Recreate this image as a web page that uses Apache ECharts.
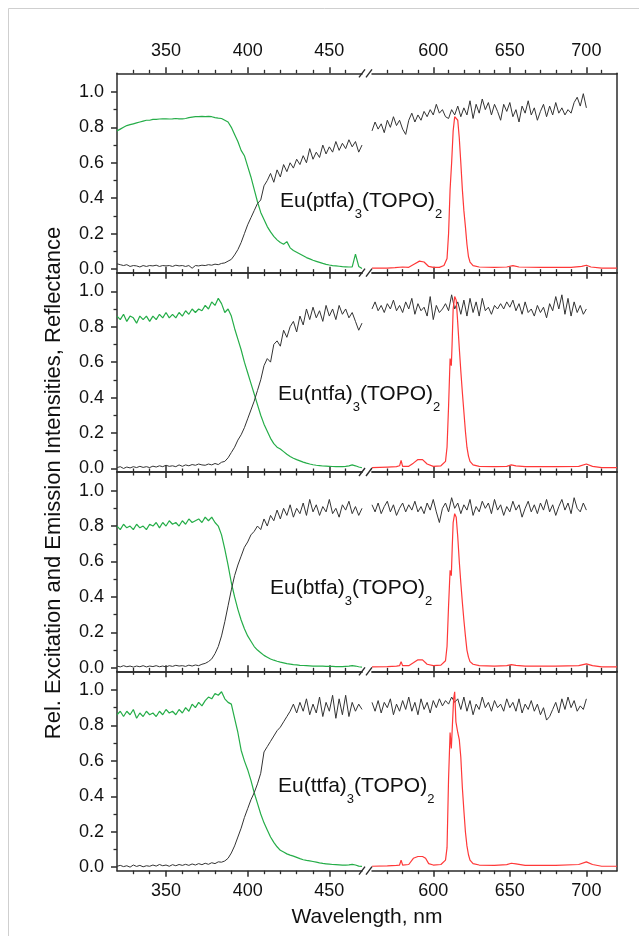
<!DOCTYPE html>
<html>
<head>
<meta charset="utf-8">
<script src="https://cdn.jsdelivr.net/npm/echarts@6/dist/echarts.min.js"></script>
<style>
html,body{margin:0;padding:0;background:#fff}
#chart{width:639px;height:936px}
</style>
</head>
<body>
<div id="chart"></div>
<script>
var FONT = '"Liberation Sans", Arial, sans-serif';

// x grid of the sampled curves (nm)
var LEFT_START = 320, RIGHT_START = 560, STEP = 2;
var LEFT_TICKS = [350, 400, 450];
var RIGHT_TICKS = [600, 650, 700];
var LEFT_MINOR = [330, 340, 360, 370, 380, 390, 410, 420, 430, 440, 460];
var RIGHT_MINOR = [570, 580, 590, 610, 620, 630, 640, 660, 670, 680, 690, 710];
var Y_TICKS = [0, 0.2, 0.4, 0.6, 0.8, 1.0];
var Y_MINOR = [0.1, 0.3, 0.5, 0.7, 0.9];

// ---- Eu(ptfa)3(TOPO)2 ----
var excitation1 = [
  0.78,0.79,0.80,0.81,0.815,0.82,0.825,0.83,0.835,0.84,
  0.84,0.845,0.845,0.847,0.848,0.848,0.847,0.848,0.85,0.848,
  0.848,0.85,0.855,0.858,0.86,0.86,0.862,0.86,0.862,0.86,
  0.855,0.852,0.85,0.84,0.83,0.80,0.76,0.72,0.67,0.64,
  0.58,0.52,0.45,0.38,0.32,0.28,0.24,0.21,0.185,0.165,
  0.15,0.14,0.155,0.12,0.105,0.095,0.085,0.075,0.065,0.058,
  0.05,0.044,0.038,0.032,0.027,0.023,0.02,0.018,0.016,0.014,
  0.013,0.012,0.013,0.085,0.015,0.003];
var reflectLeft1 = [
  0.03,0.025,0.02,0.025,0.015,0.02,0.018,0.012,0.02,0.015,
  0.02,0.018,0.022,0.015,0.02,0.018,0.02,0.015,0.022,0.018,
  0.02,0.015,0.02,0.005,0.02,0.018,0.022,0.02,0.025,0.022,
  0.028,0.025,0.032,0.035,0.045,0.055,0.08,0.11,0.15,0.2,
  0.25,0.29,0.33,0.37,0.39,0.47,0.5,0.54,0.49,0.56,
  0.52,0.59,0.55,0.6,0.57,0.62,0.59,0.64,0.6,0.68,
  0.62,0.66,0.63,0.7,0.65,0.69,0.66,0.72,0.67,0.71,
  0.68,0.73,0.69,0.72,0.66,0.7];
var reflectRight1 = [
  0.78,0.83,0.79,0.82,0.77,0.84,0.8,0.86,0.81,0.84,
  0.79,0.76,0.84,0.88,0.83,0.87,0.84,0.89,0.86,0.9,
  0.87,0.93,0.88,0.9,0.86,0.85,0.9,0.87,0.92,0.86,
  0.91,0.87,0.95,0.85,0.93,0.88,0.96,0.9,0.94,0.87,
  0.93,0.89,0.84,0.93,0.89,0.94,0.86,0.9,0.83,0.92,
  0.88,0.95,0.87,0.91,0.84,0.89,0.93,0.86,0.92,0.87,
  0.94,0.88,0.91,0.87,0.9,0.88,0.94,0.97,0.92,0.99,
  0.91];
var emission1 = [
  [560,0.005],[570,0.006],[575,0.008],[580,0.012],[584,0.01],[588,0.03],[591,0.045],[594,0.04],
  [597,0.015],[600,0.01],[604,0.01],[607,0.02],[609,0.06],[610,0.2],[611,0.45],[612,0.6],
  [613,0.78],[614,0.86],[615,0.87],[616,0.84],[617,0.74],[618,0.6],[619,0.45],[620,0.33],
  [621,0.24],[622,0.14],[623,0.07],[624,0.04],[626,0.02],[630,0.012],[640,0.01],[648,0.012],
  [652,0.02],[656,0.012],[670,0.01],[690,0.01],[697,0.015],[700,0.022],[703,0.012],[710,0.005],[720,0.005]];

// ---- Eu(ntfa)3(TOPO)2 ----
var excitation2 = [
  0.86,0.84,0.87,0.83,0.86,0.85,0.82,0.86,0.84,0.86,
  0.83,0.86,0.84,0.87,0.85,0.88,0.85,0.87,0.85,0.88,
  0.86,0.89,0.87,0.9,0.88,0.9,0.89,0.92,0.9,0.94,
  0.92,0.96,0.93,0.88,0.9,0.86,0.79,0.73,0.67,0.6,
  0.54,0.48,0.42,0.36,0.3,0.25,0.21,0.17,0.14,0.12,
  0.11,0.095,0.08,0.068,0.058,0.05,0.043,0.036,0.03,0.025,
  0.021,0.018,0.016,0.014,0.013,0.012,0.011,0.01,0.01,0.01,
  0.012,0.015,0.02,0.015,0.008,0.004];
var reflectLeft2 = [
  0.005,0.01,0.0,0.008,0.003,0.01,0.005,0.012,0.006,0.01,
  0.005,0.013,0.008,0.015,0.01,0.018,0.012,0.015,0.01,0.02,
  0.012,0.02,0.015,0.022,0.018,0.025,0.02,0.018,0.025,0.02,
  0.028,0.022,0.035,0.04,0.06,0.09,0.12,0.16,0.19,0.23,
  0.28,0.33,0.38,0.44,0.5,0.58,0.62,0.6,0.7,0.72,
  0.69,0.78,0.74,0.8,0.83,0.77,0.86,0.81,0.9,0.84,
  0.91,0.85,0.89,0.83,0.92,0.86,0.9,0.84,0.92,0.87,
  0.9,0.85,0.88,0.83,0.78,0.82];
var reflectRight2 = [
  0.9,0.94,0.89,0.92,0.88,0.93,0.9,0.95,0.89,0.92,
  0.88,0.94,0.9,0.96,0.87,0.93,0.89,0.91,0.86,0.97,
  0.84,0.92,0.88,0.9,0.93,0.89,0.98,0.9,0.94,0.87,
  0.95,0.86,0.96,0.88,0.94,0.86,0.96,0.89,0.91,0.87,
  0.92,0.9,0.93,0.9,0.94,0.91,0.95,0.89,0.93,0.87,
  0.94,0.88,0.9,0.86,0.92,0.88,0.91,0.85,0.93,0.89,
  0.97,0.9,0.98,0.87,0.96,0.86,0.94,0.88,0.92,0.87,
  0.9];
var emission2 = [
  [560,0.005],[570,0.008],[576,0.01],[578,0.015],[579,0.045],[580,0.012],[584,0.012],[587,0.03],
  [590,0.05],[593,0.05],[596,0.025],[600,0.012],[605,0.015],[608,0.04],[609,0.12],[610,0.35],
  [611,0.62],[611.8,0.58],[612.3,0.7],[613,0.9],[614,0.97],[615,0.95],[616,0.82],[617,0.68],
  [618,0.55],[619,0.43],[620,0.32],[621,0.21],[622,0.12],[623,0.07],[624,0.04],[626,0.02],
  [630,0.012],[640,0.01],[648,0.012],[651,0.02],[654,0.015],[660,0.01],[680,0.01],[695,0.012],
  [700,0.025],[704,0.012],[710,0.005],[720,0.005]];

// ---- Eu(btfa)3(TOPO)2 ----
var excitation3 = [
  0.8,0.78,0.81,0.79,0.8,0.78,0.81,0.79,0.8,0.78,
  0.81,0.8,0.82,0.79,0.82,0.8,0.83,0.81,0.82,0.8,
  0.83,0.81,0.84,0.82,0.83,0.84,0.82,0.85,0.83,0.85,
  0.82,0.8,0.75,0.67,0.58,0.48,0.4,0.33,0.27,0.22,
  0.18,0.15,0.12,0.1,0.085,0.07,0.06,0.05,0.043,0.037,
  0.032,0.028,0.024,0.021,0.018,0.016,0.014,0.013,0.012,0.011,
  0.01,0.01,0.009,0.009,0.008,0.008,0.008,0.007,0.007,0.007,
  0.008,0.009,0.012,0.01,0.006,0.004];
var reflectLeft3 = [
  0.01,0.005,0.012,0.006,0.01,0.004,0.01,0.006,0.012,0.005,
  0.01,0.007,0.012,0.006,0.01,0.005,0.012,0.008,0.014,0.01,
  0.012,0.008,0.015,0.01,0.016,0.012,0.02,0.025,0.035,0.05,
  0.08,0.12,0.18,0.26,0.35,0.44,0.52,0.58,0.63,0.68,
  0.71,0.75,0.77,0.8,0.78,0.84,0.8,0.86,0.83,0.89,
  0.84,0.9,0.86,0.92,0.85,0.9,0.87,0.93,0.86,0.95,
  0.88,0.92,0.86,0.91,0.88,0.95,0.87,0.9,0.85,0.92,
  0.89,0.94,0.87,0.91,0.86,0.9];
var reflectRight3 = [
  0.92,0.88,0.93,0.87,0.91,0.94,0.88,0.92,0.86,0.9,
  0.93,0.88,0.92,0.89,0.94,0.88,0.91,0.87,0.93,0.89,
  0.95,0.88,0.82,0.9,0.93,0.88,0.96,0.9,0.93,0.87,
  0.92,0.89,0.95,0.86,0.91,0.88,0.94,0.9,0.93,0.87,
  0.95,0.89,0.92,0.86,0.91,0.88,0.94,0.89,0.92,0.85,
  0.9,0.94,0.88,0.92,0.87,0.93,0.89,0.95,0.88,0.92,
  0.86,0.91,0.95,0.89,0.93,0.87,0.96,0.9,0.88,0.93,
  0.89];
var emission3 = [
  [560,0.005],[570,0.007],[576,0.01],[578,0.012],[579,0.035],[580,0.012],[584,0.012],[587,0.028],
  [590,0.045],[593,0.045],[596,0.02],[600,0.012],[605,0.015],[608,0.04],[609,0.12],[610,0.35],
  [611,0.55],[611.8,0.52],[612.4,0.68],[613,0.82],[614,0.87],[615,0.85],[616,0.74],[617,0.6],
  [618,0.48],[619,0.37],[620,0.27],[621,0.18],[622,0.1],[623,0.06],[624,0.035],[626,0.02],
  [630,0.012],[640,0.01],[648,0.012],[651,0.018],[654,0.014],[660,0.01],[680,0.01],[695,0.012],
  [700,0.022],[704,0.012],[710,0.005],[720,0.005]];

// ---- Eu(ttfa)3(TOPO)2 ----
var excitation4 = [
  0.86,0.88,0.85,0.88,0.86,0.89,0.84,0.87,0.85,0.88,
  0.86,0.87,0.85,0.88,0.86,0.89,0.87,0.88,0.86,0.89,
  0.87,0.9,0.88,0.92,0.9,0.93,0.91,0.94,0.96,0.95,
  0.98,0.97,0.99,0.95,0.93,0.92,0.84,0.76,0.66,0.6,
  0.55,0.49,0.42,0.36,0.3,0.25,0.21,0.17,0.14,0.115,
  0.095,0.085,0.075,0.068,0.062,0.055,0.048,0.042,0.038,0.035,
  0.032,0.028,0.024,0.021,0.019,0.017,0.015,0.014,0.013,0.012,
  0.012,0.013,0.016,0.012,0.006,0.004];
var reflectLeft4 = [
  0.005,0.01,0.003,0.008,0.0,0.012,0.004,0.01,0.002,0.008,
  0.005,0.012,0.006,0.015,0.008,0.012,0.005,0.014,0.008,0.015,
  0.01,0.016,0.01,0.018,0.012,0.02,0.014,0.022,0.016,0.025,
  0.02,0.03,0.028,0.035,0.05,0.08,0.12,0.17,0.22,0.28,
  0.33,0.38,0.42,0.47,0.53,0.65,0.68,0.71,0.74,0.77,
  0.79,0.82,0.85,0.88,0.92,0.87,0.93,0.88,0.95,0.86,
  0.92,0.87,0.96,0.85,0.93,0.88,0.97,0.84,0.95,0.86,
  0.97,0.85,0.93,0.88,0.92,0.89];
var reflectRight4 = [
  0.93,0.88,0.94,0.87,0.93,0.9,0.95,0.86,0.92,0.88,
  0.94,0.89,0.96,0.88,0.93,0.86,0.95,0.89,0.93,0.87,
  0.94,0.9,0.95,0.91,0.94,0.92,0.96,0.93,0.95,0.89,
  0.96,0.88,0.94,0.86,0.92,0.89,0.96,0.9,0.93,0.88,
  0.94,0.9,0.92,0.88,0.95,0.9,0.93,0.88,0.95,0.87,
  0.92,0.89,0.94,0.88,0.92,0.86,0.9,0.83,0.85,0.89,
  0.93,0.87,0.95,0.89,0.96,0.9,0.94,0.88,0.91,0.89,
  0.95];
var emission4 = [
  [560,0.005],[570,0.007],[576,0.01],[578,0.012],[579,0.04],[580,0.012],[584,0.015],[587,0.05],
  [590,0.06],[593,0.06],[595,0.05],[597,0.02],[600,0.012],[605,0.015],[608,0.04],[609,0.11],
  [610,0.5],[611,0.76],[611.8,0.67],[612.5,0.8],[613.3,0.95],[614,0.99],[614.8,0.82],[616,0.76],
  [617,0.72],[618,0.62],[619,0.45],[620,0.32],[621,0.2],[622,0.12],[623,0.07],[624,0.04],
  [626,0.02],[630,0.012],[640,0.01],[648,0.014],[651,0.022],[654,0.018],[660,0.01],[680,0.01],
  [695,0.015],[700,0.03],[704,0.015],[710,0.005],[720,0.005]];

var compounds = ['ptfa', 'ntfa', 'btfa', 'ttfa'];
var excitation = [excitation1, excitation2, excitation3, excitation4];
var reflectLeft = [reflectLeft1, reflectLeft2, reflectLeft3, reflectLeft4];
var reflectRight = [reflectRight1, reflectRight2, reflectRight3, reflectRight4];
var emission = [emission1, emission2, emission3, emission4];
var labelPos = [[280, 210], [278, 403], [270, 597], [278, 795]]; // left x, baseline y

// layout
var LEFT_X = 117, RIGHT_X = 372, SEG_W = 245;
var PANEL_TOP = 73.3, PANEL_H = 199.35;
var Y_MIN = -0.02, Y_MAX = 1.105;
var AXIS_COLOR = '#2b2b2b', GREEN = '#25ad48', RED = '#ff3838', BLACK = '#333333';

function pairs(start, step, vals) {
  return vals.map(function (v, i) { return [start + i * step, v]; });
}

var chart = echarts.init(document.getElementById('chart'));
var grids = [], xAxes = [], yAxes = [], series = [], graphics = [];

graphics.push({type: 'rect', shape: {x: 8.5, y: 8.5, width: 700, height: 1000},
  style: {fill: 'none', stroke: '#cfcfcf', lineWidth: 1}, silent: true});

compounds.forEach(function (name, p) {
  var top = PANEL_TOP + p * PANEL_H;
  [0, 1].forEach(function (side) {
    var g = grids.length;
    grids.push({left: side ? RIGHT_X : LEFT_X, top: top, width: SEG_W, height: PANEL_H});
    var min = side ? 560 : 320, max = side ? 720 : 470;
    var majors = side ? RIGHT_TICKS : LEFT_TICKS, minors = side ? RIGHT_MINOR : LEFT_MINOR;
    var xi = xAxes.length;
    ['bottom', 'top'].forEach(function (pos) {
      var showLab = (pos === 'top' && p === 0) || (pos === 'bottom' && p === 3);
      xAxes.push({
        type: 'value', gridIndex: g, position: pos, min: min, max: max,
        axisLine: {show: true, onZero: false, lineStyle: {color: AXIS_COLOR, width: 1.5}},
        axisTick: {show: true, customValues: majors, length: 6, lineStyle: {color: AXIS_COLOR, width: 1.5}},
        axisLabel: {show: showLab, customValues: majors, margin: pos === 'top' ? 13 : 11,
          fontSize: 18, color: '#111', fontFamily: FONT},
        splitLine: {show: false}
      });
      xAxes.push({
        type: 'value', gridIndex: g, position: pos, min: min, max: max,
        axisLine: {show: false, onZero: false},
        axisTick: {show: true, customValues: minors, length: 3.5, lineStyle: {color: AXIS_COLOR, width: 1.3}},
        axisLabel: {show: false},
        splitLine: {show: false}
      });
    });
    var yi = yAxes.length;
    if (side === 0) {
      yAxes.push({
        type: 'value', gridIndex: g, position: 'left', min: Y_MIN, max: Y_MAX,
        axisLine: {show: true, onZero: false, lineStyle: {color: AXIS_COLOR, width: 1.5}},
        axisTick: {show: true, customValues: Y_TICKS, length: 6, lineStyle: {color: AXIS_COLOR, width: 1.5}},
        axisLabel: {show: true, customValues: Y_TICKS, margin: 13, fontSize: 18, color: '#111', fontFamily: FONT,
          formatter: function (v) { return v.toFixed(1); }},
        splitLine: {show: false}
      });
      yAxes.push({
        type: 'value', gridIndex: g, position: 'left', min: Y_MIN, max: Y_MAX,
        axisLine: {show: false, onZero: false},
        axisTick: {show: true, customValues: Y_MINOR, length: 3.5, lineStyle: {color: AXIS_COLOR, width: 1.3}},
        axisLabel: {show: false},
        splitLine: {show: false}
      });
      series.push({type: 'line', xAxisIndex: xi, yAxisIndex: yi, data: pairs(LEFT_START, STEP, excitation[p]),
        showSymbol: false, lineStyle: {color: GREEN, width: 1.2}, itemStyle: {color: GREEN}});
      series.push({type: 'line', xAxisIndex: xi, yAxisIndex: yi, data: pairs(LEFT_START, STEP, reflectLeft[p]),
        showSymbol: false, lineStyle: {color: BLACK, width: 1}, itemStyle: {color: BLACK}});
    } else {
      yAxes.push({
        type: 'value', gridIndex: g, position: 'right', min: Y_MIN, max: Y_MAX,
        axisLine: {show: true, onZero: false, lineStyle: {color: AXIS_COLOR, width: 1.5}},
        axisTick: {show: false}, axisLabel: {show: false}, splitLine: {show: false}
      });
      series.push({type: 'line', xAxisIndex: xi, yAxisIndex: yi, data: pairs(RIGHT_START, STEP, reflectRight[p]),
        showSymbol: false, lineStyle: {color: BLACK, width: 1}, itemStyle: {color: BLACK}});
      series.push({type: 'line', xAxisIndex: xi, yAxisIndex: yi, data: emission[p],
        showSymbol: false, lineStyle: {color: RED, width: 1.2}, itemStyle: {color: RED}});
    }
  });

  graphics.push({
    type: 'text', x: labelPos[p][0], y: labelPos[p][1] - 19.5,
    style: {
      text: '{n|Eu(' + name + ')}{s|3}{n|(TOPO)}{s|2}',
      align: 'left', verticalAlign: 'top',
      rich: {
        n: {fontSize: 21, fontFamily: FONT, fill: '#111', lineHeight: 24, verticalAlign: 'top'},
        s: {fontSize: 13, fontFamily: FONT, fill: '#111', lineHeight: 13, verticalAlign: 'top', padding: [17, 0, 0, 0]}
      }
    }
  });
});

// axis break marks
for (var b = 0; b <= 4; b++) {
  var by = PANEL_TOP + b * PANEL_H;
  [[359, 365], [366, 372]].forEach(function (s) {
    graphics.push({type: 'line', shape: {x1: s[0], y1: by + 4, x2: s[1], y2: by - 4},
      style: {stroke: AXIS_COLOR, lineWidth: 1.4}, silent: true});
  });
}

graphics.push({type: 'text', x: 367, y: 917,
  style: {text: 'Wavelength, nm', font: '21px ' + FONT, fill: '#111', align: 'center', verticalAlign: 'middle'}});
graphics.push({type: 'text', x: 54, y: 483, rotation: Math.PI / 2,
  style: {text: 'Rel. Excitation and Emission Intensities, Reflectance', font: '22px ' + FONT, fill: '#111',
    align: 'center', verticalAlign: 'middle'}});

chart.setOption({
  animation: false,
  grid: grids,
  xAxis: xAxes,
  yAxis: yAxes,
  series: series,
  graphic: graphics
});

window.addEventListener('resize', function () {
  chart.resize();
});
</script>
</body>
</html>
